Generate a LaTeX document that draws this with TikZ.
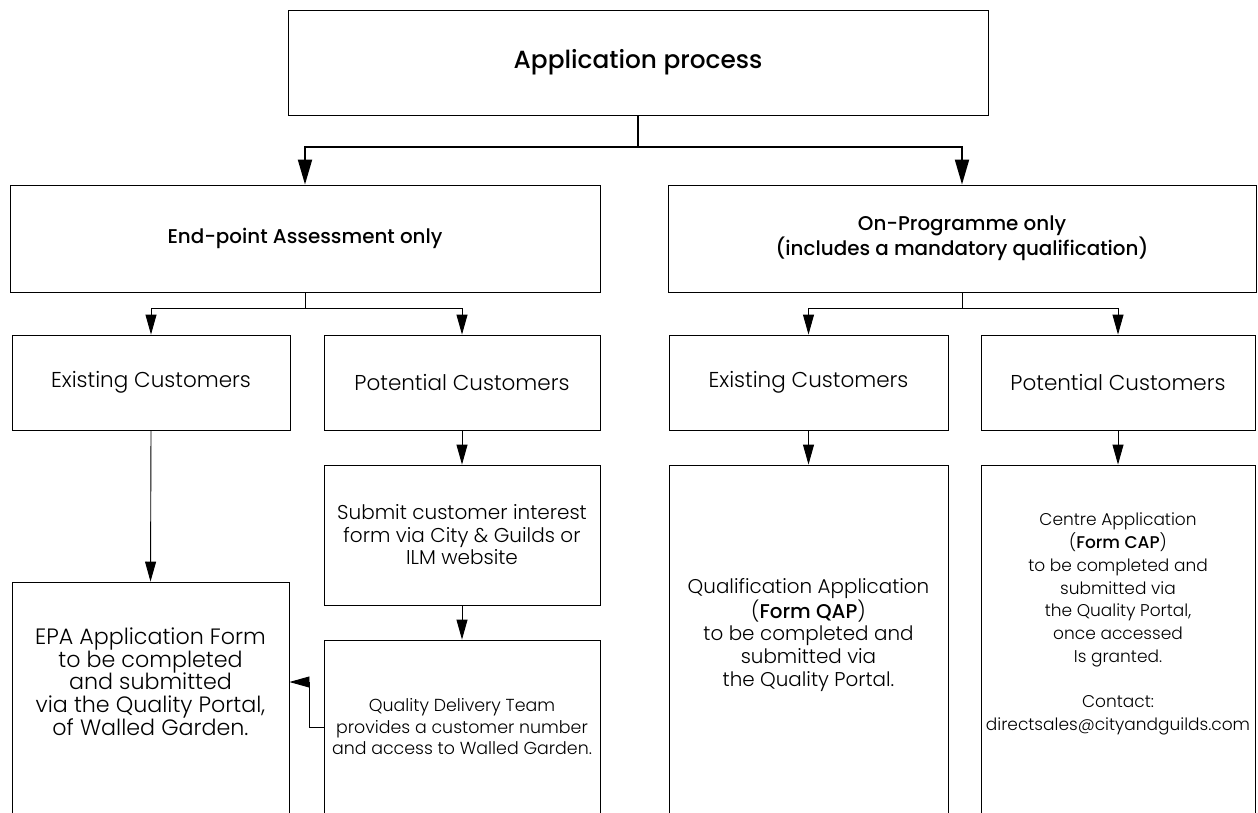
\documentclass[tikz,border=0pt]{standalone}
\usepackage{fontspec}
\setmainfont{Poppins Light}[BoldFont={Poppins Medium}]
\usetikzlibrary{arrows.meta,positioning}
\tikzset{>={Triangle[width=11pt,length=20pt]}}

\begin{document}
\begin{tikzpicture}[x=1pt,y=-1pt,
  box/.style={draw,line width=0.9pt,inner sep=0pt,align=center},
  txt/.style={align=center,font=\fontsize{19.9}{22.7}\selectfont},
  main/.style={line width=2pt,-{Triangle[width=14pt,length=25pt]}},
  link/.style={line width=0.9pt,->}]

  \useasboundingbox (0,0) rectangle (1258,812);
  \clip (0,0) rectangle (1258,812);

  \newcommand\headA{\fontsize{24.8}{28}\selectfont\bfseries}
  \newcommand\headB{\fontsize{19.9}{24}\selectfont\bfseries}
  \newcommand\headC{\fontsize{21.5}{24}\selectfont}

  % top level
  \node[box, minimum width=700pt, minimum height=105pt] (app) at (638,62.5) {\headA Application process};

  % second level
  \node[box, minimum width=590pt, minimum height=107pt] (epa) at (305,238.5) {\headB End-point Assessment only};
  \node[box, minimum width=588pt, minimum height=107pt] (onp) at (962,238.5) {\headB On-Programme only\\\headB (includes a mandatory qualification)};

  % third level
  \node[box, minimum width=278pt, minimum height=95pt] (epaex) at (151,382.5) {\headC Existing Customers};
  \node[box, minimum width=276pt, minimum height=95pt] (epapot) at (462,382.5) {\headC Potential Customers};
  \node[box, minimum width=279pt, minimum height=95pt] (onpex) at (808.5,382.5) {\headC Existing Customers};
  \node[box, minimum width=274pt, minimum height=95pt] (onppot) at (1118,382.5) {\headC Potential Customers};

  % bottom boxes (open at the bottom edge)
  \node[box, minimum width=277pt, minimum height=260pt] (epaform) at (150.5,712) {};
  \node[txt, font=\fontsize{22.2}{22.5}\selectfont] (epaformtxt) at (150.5,682) {EPA Application Form\\to be completed\\and submitted\\via the Quality Portal,\\of Walled Garden.};

  \node[box, txt, minimum width=276pt, minimum height=140pt, font=\fontsize{20}{22.5}\selectfont] (submit) at (462,535) {Submit customer interest\\form via City \& Guilds or\\ILM website};
  \node[box, minimum width=276pt, minimum height=174pt, font=\fontsize{17.4}{21.5}\selectfont] (qdt) at (462,727) {Quality Delivery Team\\provides a customer number\\and access to Walled Garden.};

  \node[box, minimum width=279pt, minimum height=370pt] (qap) at (808.5,650) {};
  \node[txt] (qaptxt) at (808.5,635) {Qualification Application\\(\textbf{Form QAP})\\to be completed and\\submitted via\\the Quality Portal.};

  \node[box, minimum width=274pt, minimum height=370pt] (cap) at (1118,650) {};
  \node[txt, font=\fontsize{17}{22.7}\selectfont] (captxt) at (1118,624) {Centre Application\\(\textbf{Form CAP})\\to be completed and\\submitted via\\the Quality Portal,\\once accessed\\Is granted.\\[22.7pt]Contact:\\directsales@cityandguilds.com};

  % connectors
  \draw[main] (app.south) -- ++(0,32) -| (epa.north);
  \draw[main] (app.south) -- ++(0,32) -| (onp.north);

  \draw[link] (epa.south) -- ++(0,16) -| (epaex.north);
  \draw[link] (epa.south) -- ++(0,16) -| (epapot.north);
  \draw[link] (onp.south) -- ++(0,16) -| (onpex.north);
  \draw[link] (onp.south) -- ++(0,16) -| (onppot.north);

  \draw[link] (epaex.south) -- (epaform.north);
  \draw[link] (epapot.south) -- (submit.north);
  \draw[link] (submit.south) -- (qdt.north);
  \draw[link] (qdt.west) -- ++(-14,0) |- (epaform.east |- epaformtxt);
  \draw[link] (onpex.south) -- (qap.north);
  \draw[link] (onppot.south) -- (cap.north);

\end{tikzpicture}
\end{document}
